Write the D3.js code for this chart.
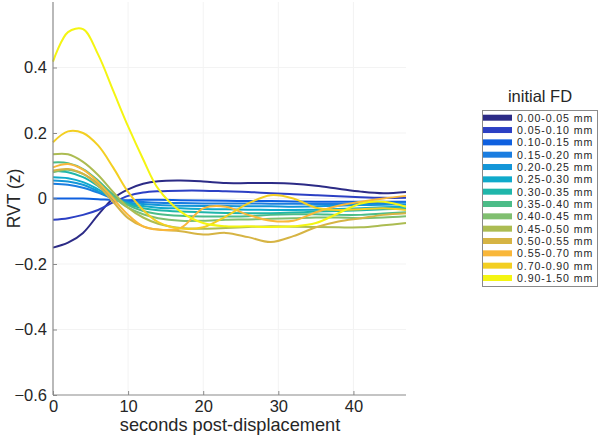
<!DOCTYPE html>
<html>
<head>
<meta charset="utf-8">
<script src="https://cdn.jsdelivr.net/npm/d3@7"></script>
<style>
  html, body { margin: 0; padding: 0; background: #fff; }
  svg { display: block; font-family: "Liberation Sans", Arial, Helvetica, sans-serif; }
</style>
</head>
<body>
<svg id="chart" width="600" height="437"></svg>
<script>
// ---- data ----
const seconds = [0, 2, 4, 6, 8, 10, 12, 14, 17, 20, 23, 26, 29, 32, 35, 38, 41, 44, 47];
const fdBins = ["0.00-0.05 mm","0.05-0.10 mm","0.10-0.15 mm","0.15-0.20 mm","0.20-0.25 mm","0.25-0.30 mm","0.30-0.35 mm","0.35-0.40 mm","0.40-0.45 mm","0.45-0.50 mm","0.50-0.55 mm","0.55-0.70 mm","0.70-0.90 mm","0.90-1.50 mm"];
const binColors = ["#2c2b86","#2c40c4","#0f60df","#1a7de0","#1396d8","#10aacb","#1fb6aa","#4cbc88","#80bf70","#acbc52","#d6b444","#f9b73a","#f3cf22","#f4f512"];
const rvt00_05 = [-0.15,-0.135,-0.105,-0.05,0.0,0.028,0.045,0.053,0.055,0.052,0.047,0.047,0.047,0.045,0.039,0.030,0.021,0.016,0.020];
const rvt05_10 = [-0.065,-0.06,-0.05,-0.035,-0.012,0.008,0.018,0.022,0.024,0.024,0.022,0.020,0.016,0.013,0.010,0.007,0.004,0.002,0.002];
const rvt10_15 = [0.0,0.0,0.0,-0.002,-0.005,-0.005,-0.004,-0.004,-0.005,-0.006,-0.007,-0.008,-0.008,-0.009,-0.010,-0.010,-0.010,-0.010,-0.010];
const rvt15_20 = [0.045,0.042,0.033,0.018,0.0,-0.008,-0.011,-0.013,-0.014,-0.015,-0.015,-0.015,-0.016,-0.016,-0.017,-0.017,-0.016,-0.014,-0.012];
const rvt20_25 = [0.055,0.052,0.042,0.022,0.0,-0.012,-0.017,-0.020,-0.022,-0.023,-0.023,-0.024,-0.024,-0.025,-0.024,-0.022,-0.020,-0.019,-0.018];
const rvt25_30 = [0.065,0.062,0.050,0.028,0.002,-0.015,-0.023,-0.028,-0.030,-0.032,-0.033,-0.034,-0.035,-0.035,-0.034,-0.032,-0.030,-0.027,-0.025];
const rvt30_35 = [0.085,0.080,0.065,0.038,0.005,-0.018,-0.030,-0.036,-0.040,-0.042,-0.044,-0.045,-0.045,-0.043,-0.040,-0.038,-0.036,-0.033,-0.030];
const rvt35_40 = [0.110,0.108,0.090,0.055,0.012,-0.020,-0.038,-0.047,-0.053,-0.055,-0.055,-0.054,-0.050,-0.048,-0.048,-0.050,-0.050,-0.046,-0.042];
const rvt40_45 = [0.080,0.088,0.075,0.045,0.005,-0.028,-0.048,-0.060,-0.068,-0.068,-0.065,-0.064,-0.062,-0.060,-0.058,-0.058,-0.060,-0.058,-0.054];
const rvt45_50 = [0.135,0.135,0.112,0.072,0.020,-0.028,-0.058,-0.077,-0.090,-0.092,-0.090,-0.087,-0.085,-0.086,-0.087,-0.088,-0.088,-0.082,-0.075];
const rvt50_55 = [0.085,0.090,0.075,0.040,-0.010,-0.060,-0.085,-0.095,-0.100,-0.110,-0.105,-0.118,-0.133,-0.115,-0.088,-0.070,-0.060,-0.050,-0.045];
const rvt55_70 = [0.095,0.105,0.088,0.050,0.0,-0.050,-0.085,-0.095,-0.090,-0.030,-0.025,-0.050,-0.068,-0.068,-0.042,-0.022,-0.010,0.0,0.008];
const rvt70_90 = [0.172,0.205,0.200,0.162,0.095,0.020,-0.035,-0.072,-0.092,-0.088,-0.055,-0.015,0.010,0.0,-0.028,-0.035,-0.033,-0.030,-0.035];
const rvt90_150 = [0.418,0.508,0.517,0.440,0.330,0.220,0.120,0.030,-0.040,-0.075,-0.085,-0.085,-0.087,-0.085,-0.075,-0.045,-0.015,-0.010,-0.025];
const series = [rvt00_05,rvt05_10,rvt10_15,rvt15_20,rvt20_25,rvt25_30,rvt30_35,rvt35_40,rvt40_45,rvt45_50,rvt50_55,rvt55_70,rvt70_90,rvt90_150];
const xTicks = [0, 10, 20, 30, 40];
const yTicks = [-0.6, -0.4, -0.2, 0, 0.2, 0.4];
const xTitle = "seconds post-displacement";
const yTitle = "RVT (z)";
const legendTitle = "initial FD";

// ---- drawing ----
const svg = d3.select("#chart");
const x = d3.scaleLinear().domain([0, 47]).range([53, 406]);
const y = d3.scaleLinear().domain([-0.6, 0.6]).range([395, 2]);
const axisColor = "#8a8a8a";
const textColor = "#262626";

// grid
const grid = svg.append("g");
grid.selectAll("line.gx").data(xTicks.slice(1)).join("line")
  .attr("x1", d => x(d)).attr("x2", d => x(d)).attr("y1", y(-0.6)).attr("y2", y(0.6))
  .attr("stroke", "#f3f3f3").attr("stroke-width", 1);
grid.selectAll("line.gy").data(yTicks.slice(1)).join("line")
  .attr("x1", x(0)).attr("x2", x(47)).attr("y1", d => y(d)).attr("y2", d => y(d))
  .attr("stroke", "#f3f3f3").attr("stroke-width", 1);

// lines
const line = d3.line()
  .x((d, i) => x(seconds[i]))
  .y(d => y(d))
  .curve(d3.curveCatmullRom.alpha(0.5));
svg.append("g").selectAll("path").data(series).join("path")
  .attr("d", d => line(d))
  .attr("fill", "none")
  .attr("stroke", (d, i) => binColors[i])
  .attr("stroke-width", 2)
  .attr("stroke-linejoin", "round");

// axes
const xAxis = d3.axisBottom(x).tickValues(xTicks).tickSize(-4).tickPadding(5).tickFormat(d3.format("d"));
const gx = svg.append("g").attr("transform", `translate(0,${y(-0.6)})`).call(xAxis);
const yAxis = d3.axisLeft(y).tickValues(yTicks).tickSize(-4).tickPadding(6).tickFormat(d => d === 0 ? "0" : d3.format(".1f")(d));
const gy = svg.append("g").attr("transform", `translate(${x(0)},0)`).call(yAxis);
[gx, gy].forEach(g => {
  g.select(".domain").attr("stroke", axisColor).attr("stroke-width", 1.2);
  g.selectAll(".tick line").attr("stroke", axisColor);
  g.selectAll(".tick text").attr("fill", textColor).style("font-size", "16.5px")
    .style("font-family", "'Liberation Sans', Arial, sans-serif");
});
gy.select(".domain").attr("d", `M0,${y(-0.6)}V${y(0.6)}`);
gx.select(".domain").attr("d", `M${x(0)},0H${x(47)}`);

svg.append("text").attr("x", (x(0) + x(47)) / 2 + 0.5).attr("y", 431)
  .attr("text-anchor", "middle").attr("fill", textColor).style("font-size", "18.2px").text(xTitle);
svg.append("text").attr("transform", `translate(20,${y(0)}) rotate(-90)`)
  .attr("text-anchor", "middle").attr("fill", textColor).style("font-size", "17.5px").text(yTitle);

// legend
const lg = svg.append("g");
lg.append("text").attr("x", 540).attr("y", 102).attr("text-anchor", "middle")
  .attr("fill", textColor).style("font-size", "16.5px").text(legendTitle);
lg.append("rect").attr("x", 482.5).attr("y", 110.5).attr("width", 115).attr("height", 176)
  .attr("fill", "#fff").attr("stroke", "#8a8a8a").attr("stroke-width", 1);
const rows = lg.selectAll("g.row").data(fdBins).join("g")
  .attr("transform", (d, i) => `translate(0,${117.7 + i * 12.33})`);
rows.append("rect").attr("x", 483).attr("y", -3).attr("width", 29).attr("height", 6)
  .attr("fill", (d, i) => binColors[i]);
rows.append("text").attr("x", 517).attr("y", 3.9).attr("fill", textColor)
  .style("font-size", "10.6px").style("letter-spacing", "0.9px").text(d => d);
</script>
</body>
</html>
